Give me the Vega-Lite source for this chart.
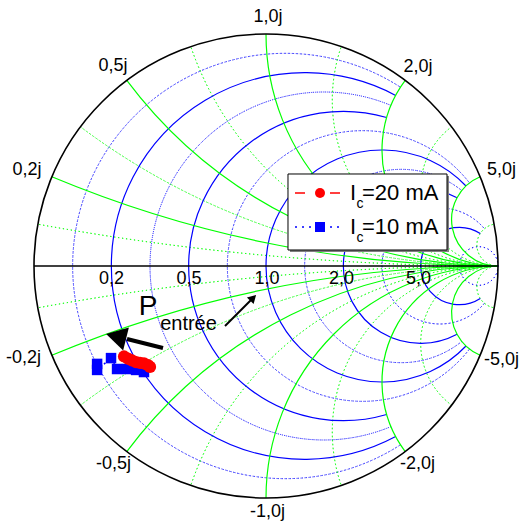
{
  "$schema": "https://vega.github.io/schema/vega-lite/v6.json",
  "width": 464,
  "height": 464,
  "autosize": {"type": "none"},
  "padding": {"left": 34, "top": 34, "right": 29, "bottom": 24},
  "background": "white",
  "config": {"view": {"stroke": null}, "text": {"font": "Liberation Sans"}},
  "datasets": {
    "grid": [
      {"fam": "r", "kind": "minor", "cx": 0.0833, "cy": 0, "rho": 0.9167, "t1": -3.7137, "t2": 0.5721},
      {"fam": "r", "kind": "major", "cx": 0.1667, "cy": 0, "rho": 0.8333, "t1": -3.6316, "t2": 0.4900},
      {"fam": "r", "kind": "minor", "cx": 0.25, "cy": 0, "rho": 0.75, "t1": -3.5364, "t2": 0.3948},
      {"fam": "r", "kind": "major", "cx": 0.3333, "cy": 0, "rho": 0.6667, "t1": -3.4254, "t2": 0.2838},
      {"fam": "r", "kind": "minor", "cx": 0.4167, "cy": 0, "rho": 0.5833, "t1": -4.0518, "t2": 0.9102},
      {"fam": "r", "kind": "major", "cx": 0.5, "cy": 0, "rho": 0.5, "t1": -3.9514, "t2": 0.8098},
      {"fam": "r", "kind": "minor", "cx": 0.5833, "cy": 0, "rho": 0.4167, "t1": -3.8174, "t2": 0.6758},
      {"fam": "r", "kind": "major", "cx": 0.6667, "cy": 0, "rho": 0.3333, "t1": -3.6316, "t2": 0.4900},
      {"fam": "r", "kind": "minor", "cx": 0.75, "cy": 0, "rho": 0.25, "t1": -4.0148, "t2": 0.8732},
      {"fam": "r", "kind": "major", "cx": 0.8333, "cy": 0, "rho": 0.1667, "t1": -3.7138, "t2": 0.5722},
      {"fam": "r", "kind": "minor", "cx": 0.9167, "cy": 0, "rho": 0.0833, "t1": -4.7124, "t2": 1.5708},
      {"fam": "x", "kind": "minor", "cx": 1, "cy": 11, "rho": 11, "t1": 3.1416, "t2": 3.3229},
      {"fam": "x", "kind": "major", "cx": 1, "cy": 5, "rho": 5, "t1": 3.1416, "t2": 3.5364},
      {"fam": "x", "kind": "minor", "cx": 1, "cy": 3, "rho": 3, "t1": 3.1416, "t2": 3.7851},
      {"fam": "x", "kind": "major", "cx": 1, "cy": 2, "rho": 2, "t1": 3.1416, "t2": 4.0689},
      {"fam": "x", "kind": "minor", "cx": 1, "cy": 1.4, "rho": 1.4, "t1": 3.1416, "t2": 4.3821},
      {"fam": "x", "kind": "major", "cx": 1, "cy": 1, "rho": 1, "t1": 3.1416, "t2": 4.7124},
      {"fam": "x", "kind": "minor", "cx": 1, "cy": 0.7143, "rho": 0.7143, "t1": 3.1416, "t2": 5.0427},
      {"fam": "x", "kind": "major", "cx": 1, "cy": 0.5, "rho": 0.5, "t1": 3.1416, "t2": 5.3559},
      {"fam": "x", "kind": "minor", "cx": 1, "cy": 0.3333, "rho": 0.3333, "t1": 3.1416, "t2": 5.6397},
      {"fam": "x", "kind": "major", "cx": 1, "cy": 0.2, "rho": 0.2, "t1": 3.1416, "t2": 5.8884},
      {"fam": "x", "kind": "minor", "cx": 1, "cy": 0.0909, "rho": 0.0909, "t1": 3.1416, "t2": 6.1019},
      {"fam": "x", "kind": "minor", "cx": 1, "cy": -11, "rho": 11, "t1": 0, "t2": -0.1813},
      {"fam": "x", "kind": "major", "cx": 1, "cy": -5, "rho": 5, "t1": 0, "t2": -0.3948},
      {"fam": "x", "kind": "minor", "cx": 1, "cy": -3, "rho": 3, "t1": 0, "t2": -0.6435},
      {"fam": "x", "kind": "major", "cx": 1, "cy": -2, "rho": 2, "t1": 0, "t2": -0.9273},
      {"fam": "x", "kind": "minor", "cx": 1, "cy": -1.4, "rho": 1.4, "t1": 0, "t2": -1.2405},
      {"fam": "x", "kind": "major", "cx": 1, "cy": -1, "rho": 1, "t1": 0, "t2": -1.5708},
      {"fam": "x", "kind": "minor", "cx": 1, "cy": -0.7143, "rho": 0.7143, "t1": 0, "t2": -1.9011},
      {"fam": "x", "kind": "major", "cx": 1, "cy": -0.5, "rho": 0.5, "t1": 0, "t2": -2.2143},
      {"fam": "x", "kind": "minor", "cx": 1, "cy": -0.3333, "rho": 0.3333, "t1": 0, "t2": -2.4981},
      {"fam": "x", "kind": "major", "cx": 1, "cy": -0.2, "rho": 0.2, "t1": 0, "t2": -2.7468},
      {"fam": "x", "kind": "minor", "cx": 1, "cy": -0.0909, "rho": 0.0909, "t1": 0, "t2": -2.9603}
    ],
    "labels": [
      {"t": "1,0j", "u": 0.0086, "v": 1.0754},
      {"t": "0,5j", "u": -0.6595, "v": 0.8621},
      {"t": "2,0j", "u": 0.6552, "v": 0.8599},
      {"t": "0,2j", "u": -1.0302, "v": 0.4138},
      {"t": "5,0j", "u": 1.0151, "v": 0.4138},
      {"t": "-0,2j", "u": -1.0453, "v": -0.3966},
      {"t": "-5,0j", "u": 1.0151, "v": -0.4052},
      {"t": "-0,5j", "u": -0.6573, "v": -0.8513},
      {"t": "-2,0j", "u": 0.6530, "v": -0.8513},
      {"t": "-1,0j", "u": 0.0065, "v": -1.0582},
      {"t": "0,2", "u": -0.6659, "v": -0.0539},
      {"t": "0,5", "u": -0.3319, "v": -0.0539},
      {"t": "1,0", "u": 0.0043, "v": -0.0539},
      {"t": "2,0", "u": 0.3254, "v": -0.0539},
      {"t": "5,0", "u": 0.6573, "v": -0.0539}
    ],
    "red": [
      {"i": 1, "u": -0.612, "v": -0.390},
      {"i": 2, "u": -0.595, "v": -0.399},
      {"i": 3, "u": -0.578, "v": -0.407},
      {"i": 4, "u": -0.560, "v": -0.414},
      {"i": 5, "u": -0.543, "v": -0.418},
      {"i": 6, "u": -0.526, "v": -0.420},
      {"i": 7, "u": -0.509, "v": -0.427},
      {"i": 8, "u": -0.500, "v": -0.435}
    ],
    "blue": [
      {"i": 1, "u": -0.728, "v": -0.422},
      {"i": 2, "u": -0.728, "v": -0.448},
      {"i": 3, "u": -0.668, "v": -0.397},
      {"i": 4, "u": -0.642, "v": -0.444},
      {"i": 5, "u": -0.599, "v": -0.444},
      {"i": 6, "u": -0.560, "v": -0.448},
      {"i": 7, "u": -0.526, "v": -0.457}
    ]
  },
  "layer": [
    {
      "data": {"name": "grid"},
      "transform": [{"filter": "datum.fam === 'r' && datum.kind === 'minor'"}],
      "mark": {"type": "arc", "filled": false, "stroke": "#0000ff", "strokeWidth": 1, "strokeDash": [1, 3]},
      "encoding": {
        "x": {"field": "cx", "type": "quantitative", "scale": {"domain": [-1, 1], "nice": false, "zero": false}, "axis": null},
        "y": {"field": "cy", "type": "quantitative", "scale": {"domain": [-1, 1], "nice": false, "zero": false}, "axis": null},
        "theta": {"field": "t1", "type": "quantitative", "scale": null, "stack": null},
        "theta2": {"field": "t2"},
        "radius": {"field": "rho", "type": "quantitative", "scale": {"type": "linear", "domain": [0, 1], "range": [0, 232], "zero": true}, "stack": null},
        "radius2": {"field": "rho"}
      }
    },
    {
      "data": {"name": "grid"},
      "transform": [{"filter": "datum.fam === 'x' && datum.kind === 'minor'"}],
      "mark": {"type": "arc", "filled": false, "stroke": "#00ff00", "strokeWidth": 1, "strokeDash": [1, 3]},
      "encoding": {
        "x": {"field": "cx", "type": "quantitative", "scale": {"domain": [-1, 1], "nice": false, "zero": false}, "axis": null},
        "y": {"field": "cy", "type": "quantitative", "scale": {"domain": [-1, 1], "nice": false, "zero": false}, "axis": null},
        "theta": {"field": "t1", "type": "quantitative", "scale": null, "stack": null},
        "theta2": {"field": "t2"},
        "radius": {"field": "rho", "type": "quantitative", "scale": {"type": "linear", "domain": [0, 1], "range": [0, 232], "zero": true}, "stack": null},
        "radius2": {"field": "rho"}
      }
    },
    {
      "data": {"name": "grid"},
      "transform": [{"filter": "datum.fam === 'r' && datum.kind === 'major'"}],
      "mark": {"type": "arc", "filled": false, "stroke": "#0000ff", "strokeWidth": 1.2},
      "encoding": {
        "x": {"field": "cx", "type": "quantitative", "scale": {"domain": [-1, 1], "nice": false, "zero": false}, "axis": null},
        "y": {"field": "cy", "type": "quantitative", "scale": {"domain": [-1, 1], "nice": false, "zero": false}, "axis": null},
        "theta": {"field": "t1", "type": "quantitative", "scale": null, "stack": null},
        "theta2": {"field": "t2"},
        "radius": {"field": "rho", "type": "quantitative", "scale": {"type": "linear", "domain": [0, 1], "range": [0, 232], "zero": true}, "stack": null},
        "radius2": {"field": "rho"}
      }
    },
    {
      "data": {"name": "grid"},
      "transform": [{"filter": "datum.fam === 'x' && datum.kind === 'major'"}],
      "mark": {"type": "arc", "filled": false, "stroke": "#00ff00", "strokeWidth": 1.2},
      "encoding": {
        "x": {"field": "cx", "type": "quantitative", "scale": {"domain": [-1, 1], "nice": false, "zero": false}, "axis": null},
        "y": {"field": "cy", "type": "quantitative", "scale": {"domain": [-1, 1], "nice": false, "zero": false}, "axis": null},
        "theta": {"field": "t1", "type": "quantitative", "scale": null, "stack": null},
        "theta2": {"field": "t2"},
        "radius": {"field": "rho", "type": "quantitative", "scale": {"type": "linear", "domain": [0, 1], "range": [0, 232], "zero": true}, "stack": null},
        "radius2": {"field": "rho"}
      }
    },
    {
      "data": {"values": [{"u": 0, "v": 0, "rho": 1, "t1": 0, "t2": 6.2832}]},
      "mark": {"type": "arc", "filled": false, "stroke": "black", "strokeWidth": 1.6},
      "encoding": {
        "x": {"field": "u", "type": "quantitative", "scale": {"domain": [-1, 1], "nice": false, "zero": false}, "axis": null},
        "y": {"field": "v", "type": "quantitative", "scale": {"domain": [-1, 1], "nice": false, "zero": false}, "axis": null},
        "theta": {"field": "t1", "type": "quantitative", "scale": null, "stack": null},
        "theta2": {"field": "t2"},
        "radius": {"field": "rho", "type": "quantitative", "scale": {"type": "linear", "domain": [0, 1], "range": [0, 232], "zero": true}, "stack": null},
        "radius2": {"field": "rho"}
      }
    },
    {
      "data": {"values": [{"u": -1, "u2": 1, "v": 0}]},
      "mark": {"type": "rule", "color": "black", "strokeWidth": 1.6},
      "encoding": {
        "x": {"field": "u", "type": "quantitative", "scale": {"domain": [-1, 1], "nice": false, "zero": false}, "axis": null},
        "x2": {"field": "u2"},
        "y": {"field": "v", "type": "quantitative", "scale": {"domain": [-1, 1], "nice": false, "zero": false}, "axis": null}
      }
    },
    {
      "data": {"name": "labels"},
      "mark": {"type": "text", "fontSize": 18, "align": "center", "baseline": "middle", "color": "black"},
      "encoding": {
        "x": {"field": "u", "type": "quantitative", "scale": {"domain": [-1, 1], "nice": false, "zero": false}, "axis": null},
        "y": {"field": "v", "type": "quantitative", "scale": {"domain": [-1, 1], "nice": false, "zero": false}, "axis": null},
        "text": {"field": "t"}
      }
    },
    {
      "data": {"name": "red"},
      "mark": {"type": "line", "color": "#ff0000", "strokeWidth": 1.5, "strokeDash": [6, 4]},
      "encoding": {
        "x": {"field": "u", "type": "quantitative", "scale": {"domain": [-1, 1], "nice": false, "zero": false}, "axis": null},
        "y": {"field": "v", "type": "quantitative", "scale": {"domain": [-1, 1], "nice": false, "zero": false}, "axis": null},
        "order": {"field": "i"}
      }
    },
    {
      "data": {"name": "blue"},
      "mark": {"type": "line", "color": "#0000ff", "strokeWidth": 1.5, "strokeDash": [2, 3]},
      "encoding": {
        "x": {"field": "u", "type": "quantitative", "scale": {"domain": [-1, 1], "nice": false, "zero": false}, "axis": null},
        "y": {"field": "v", "type": "quantitative", "scale": {"domain": [-1, 1], "nice": false, "zero": false}, "axis": null},
        "order": {"field": "i"}
      }
    },
    {
      "data": {"name": "blue"},
      "mark": {"type": "point", "shape": "square", "filled": true, "size": 110, "color": "#0000ff", "opacity": 1},
      "encoding": {
        "x": {"field": "u", "type": "quantitative", "scale": {"domain": [-1, 1], "nice": false, "zero": false}, "axis": null},
        "y": {"field": "v", "type": "quantitative", "scale": {"domain": [-1, 1], "nice": false, "zero": false}, "axis": null}
      }
    },
    {
      "data": {"name": "red"},
      "mark": {"type": "point", "shape": "circle", "filled": true, "size": 150, "color": "#ff0000", "opacity": 1},
      "encoding": {
        "x": {"field": "u", "type": "quantitative", "scale": {"domain": [-1, 1], "nice": false, "zero": false}, "axis": null},
        "y": {"field": "v", "type": "quantitative", "scale": {"domain": [-1, 1], "nice": false, "zero": false}, "axis": null}
      }
    },
    {
      "data": {"values": [{"u": -0.444, "v": -0.3534, "u2": -0.5991, "v2": -0.3147}]},
      "mark": {"type": "rule", "color": "black", "strokeWidth": 4},
      "encoding": {
        "x": {"field": "u", "type": "quantitative", "scale": {"domain": [-1, 1], "nice": false, "zero": false}, "axis": null},
        "y": {"field": "v", "type": "quantitative", "scale": {"domain": [-1, 1], "nice": false, "zero": false}, "axis": null},
        "x2": {"field": "u2"},
        "y2": {"field": "v2"}
      }
    },
    {
      "data": {"values": [{"u": -0.6319, "v": -0.3073}]},
      "mark": {"type": "point", "shape": "triangle", "filled": true, "size": 560, "angle": 284, "color": "black", "opacity": 1},
      "encoding": {
        "x": {"field": "u", "type": "quantitative", "scale": {"domain": [-1, 1], "nice": false, "zero": false}, "axis": null},
        "y": {"field": "v", "type": "quantitative", "scale": {"domain": [-1, 1], "nice": false, "zero": false}, "axis": null}
      }
    },
    {
      "data": {"values": [{"u": -0.1767, "v": -0.2586, "u2": -0.0647, "v2": -0.1466}]},
      "mark": {"type": "rule", "color": "black", "strokeWidth": 2},
      "encoding": {
        "x": {"field": "u", "type": "quantitative", "scale": {"domain": [-1, 1], "nice": false, "zero": false}, "axis": null},
        "y": {"field": "v", "type": "quantitative", "scale": {"domain": [-1, 1], "nice": false, "zero": false}, "axis": null},
        "x2": {"field": "u2"},
        "y2": {"field": "v2"}
      }
    },
    {
      "data": {"values": [{"u": -0.0595, "v": -0.1414}]},
      "mark": {"type": "point", "shape": "triangle", "filled": true, "size": 90, "angle": 45, "color": "black", "opacity": 1},
      "encoding": {
        "x": {"field": "u", "type": "quantitative", "scale": {"domain": [-1, 1], "nice": false, "zero": false}, "axis": null},
        "y": {"field": "v", "type": "quantitative", "scale": {"domain": [-1, 1], "nice": false, "zero": false}, "axis": null}
      }
    },
    {
      "data": {"values": [{"u": -0.5086, "v": -0.2112, "t": "P"}]},
      "mark": {"type": "text", "fontSize": 28, "align": "center", "baseline": "alphabetic", "color": "black"},
      "encoding": {
        "x": {"field": "u", "type": "quantitative", "scale": {"domain": [-1, 1], "nice": false, "zero": false}, "axis": null},
        "y": {"field": "v", "type": "quantitative", "scale": {"domain": [-1, 1], "nice": false, "zero": false}, "axis": null},
        "text": {"field": "t"}
      }
    },
    {
      "data": {"values": [{"u": -0.334, "v": -0.2759, "t": "entrée"}]},
      "mark": {"type": "text", "fontSize": 20, "align": "center", "baseline": "alphabetic", "color": "black"},
      "encoding": {
        "x": {"field": "u", "type": "quantitative", "scale": {"domain": [-1, 1], "nice": false, "zero": false}, "axis": null},
        "y": {"field": "v", "type": "quantitative", "scale": {"domain": [-1, 1], "nice": false, "zero": false}, "axis": null},
        "text": {"field": "t"}
      }
    },
    {
      "data": {"values": [{"u": 0.1034, "u2": 0.7888, "v": 0.3879, "v2": 0.0603}]},
      "mark": {"type": "rect", "color": "#808080"},
      "encoding": {
        "x": {"field": "u", "type": "quantitative", "scale": {"domain": [-1, 1], "nice": false, "zero": false}, "axis": null},
        "x2": {"field": "u2"},
        "y": {"field": "v", "type": "quantitative", "scale": {"domain": [-1, 1], "nice": false, "zero": false}, "axis": null},
        "y2": {"field": "v2"}
      }
    },
    {
      "data": {"values": [{"u": 0.0948, "u2": 0.7802, "v": 0.3966, "v2": 0.069}]},
      "mark": {"type": "rect", "fill": "white", "stroke": "black", "strokeWidth": 1},
      "encoding": {
        "x": {"field": "u", "type": "quantitative", "scale": {"domain": [-1, 1], "nice": false, "zero": false}, "axis": null},
        "x2": {"field": "u2"},
        "y": {"field": "v", "type": "quantitative", "scale": {"domain": [-1, 1], "nice": false, "zero": false}, "axis": null},
        "y2": {"field": "v2"}
      }
    },
    {
      "data": {"values": [{"u": 0.125, "u2": 0.319, "v": 0.3147}]},
      "mark": {"type": "rule", "color": "#ff0000", "strokeWidth": 1.5, "strokeDash": [10, 25]},
      "encoding": {
        "x": {"field": "u", "type": "quantitative", "scale": {"domain": [-1, 1], "nice": false, "zero": false}, "axis": null},
        "x2": {"field": "u2"},
        "y": {"field": "v", "type": "quantitative", "scale": {"domain": [-1, 1], "nice": false, "zero": false}, "axis": null}
      }
    },
    {
      "data": {"values": [{"u": 0.125, "u2": 0.319, "v": 0.1681}]},
      "mark": {"type": "rule", "color": "#0000ff", "strokeWidth": 1.5, "strokeDash": [2, 5]},
      "encoding": {
        "x": {"field": "u", "type": "quantitative", "scale": {"domain": [-1, 1], "nice": false, "zero": false}, "axis": null},
        "x2": {"field": "u2"},
        "y": {"field": "v", "type": "quantitative", "scale": {"domain": [-1, 1], "nice": false, "zero": false}, "axis": null}
      }
    },
    {
      "data": {"values": [{"u": 0.2328, "v": 0.3147}]},
      "mark": {"type": "point", "shape": "circle", "filled": true, "size": 100, "color": "#ff0000", "opacity": 1},
      "encoding": {
        "x": {"field": "u", "type": "quantitative", "scale": {"domain": [-1, 1], "nice": false, "zero": false}, "axis": null},
        "y": {"field": "v", "type": "quantitative", "scale": {"domain": [-1, 1], "nice": false, "zero": false}, "axis": null}
      }
    },
    {
      "data": {"values": [{"u": 0.2328, "v": 0.1681}]},
      "mark": {"type": "point", "shape": "square", "filled": true, "size": 100, "color": "#0000ff", "opacity": 1},
      "encoding": {
        "x": {"field": "u", "type": "quantitative", "scale": {"domain": [-1, 1], "nice": false, "zero": false}, "axis": null},
        "y": {"field": "v", "type": "quantitative", "scale": {"domain": [-1, 1], "nice": false, "zero": false}, "axis": null}
      }
    },
    {
      "data": {"values": [{"u": 0.3621, "v": 0.2845, "t": "I"}, {"u": 0.4138, "v": 0.2845, "t": "=20 mA"}, {"u": 0.3621, "v": 0.1379, "t": "I"}, {"u": 0.4138, "v": 0.1379, "t": "=10 mA"}]},
      "mark": {"type": "text", "fontSize": 22, "align": "left", "baseline": "alphabetic", "color": "black"},
      "encoding": {
        "x": {"field": "u", "type": "quantitative", "scale": {"domain": [-1, 1], "nice": false, "zero": false}, "axis": null},
        "y": {"field": "v", "type": "quantitative", "scale": {"domain": [-1, 1], "nice": false, "zero": false}, "axis": null},
        "text": {"field": "t"}
      }
    },
    {
      "data": {"values": [{"u": 0.3901, "v": 0.25, "t": "c"}, {"u": 0.3901, "v": 0.1034, "t": "c"}]},
      "mark": {"type": "text", "fontSize": 14, "align": "left", "baseline": "alphabetic", "color": "black"},
      "encoding": {
        "x": {"field": "u", "type": "quantitative", "scale": {"domain": [-1, 1], "nice": false, "zero": false}, "axis": null},
        "y": {"field": "v", "type": "quantitative", "scale": {"domain": [-1, 1], "nice": false, "zero": false}, "axis": null},
        "text": {"field": "t"}
      }
    }
  ]
}
